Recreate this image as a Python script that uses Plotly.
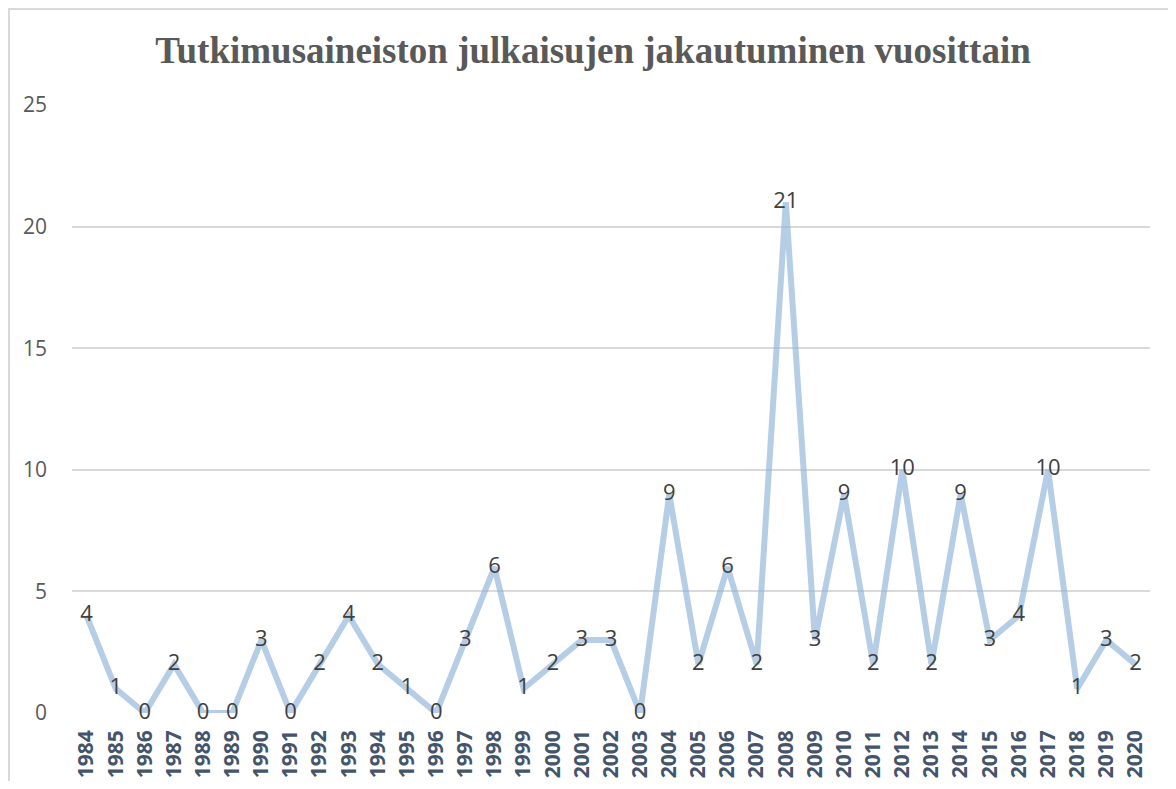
import plotly.graph_objects as go

years = [str(y) for y in range(1984, 2021)]
counts = [4, 1, 0, 2, 0, 0, 3, 0, 2, 4, 2, 1, 0, 3, 6, 1, 2, 3, 3, 0,
          9, 2, 6, 2, 21, 3, 9, 2, 10, 2, 9, 3, 4, 10, 1, 3, 2]
title_text = "Tutkimusaineiston julkaisujen jakautuminen vuosittain"
y_ticks = [0, 5, 10, 15, 20, 25]

fig = go.Figure()
fig.add_trace(go.Scatter(
    x=years, y=counts, mode="lines+text",
    line=dict(color="rgba(143,178,216,0.65)", width=6),
    text=[str(v) for v in counts], textposition="middle center",
    textfont=dict(family="Open Sans", size=22, color="#404040"),
    cliponaxis=False, hoverinfo="x+y",
))

# page has an 8px body margin; figure is sized so it fits the window
W, H = 1160, 773
L, R, T, B = 64, 18, 97, 68
pw, ph = W - L - R, H - T - B
x_left = (1 - L) / pw
y_top = (H - B - 1) / ph
fig.add_shape(type="path", xref="paper", yref="paper",
              path=f"M {x_left},-0.2 L {x_left},{y_top} L 1.1,{y_top}",
              line=dict(color="#d9d9d9", width=2), layer="below")

fig.update_layout(
    width=W, height=H,
    margin=dict(l=L, r=R, t=T, b=B, autoexpand=False),
    paper_bgcolor="white", plot_bgcolor="white",
    showlegend=False,
    title=dict(text=title_text, x=585 / W, xanchor="center",
               y=1 - 42 / H, yanchor="middle",
               font=dict(family="Liberation Serif", size=37, color="#595959", weight="bold")),
    xaxis=dict(type="category", range=[-0.5, len(years) - 0.5], tickangle=-90,
               showgrid=False, showline=False,
               zeroline=False, ticks="", ticklabelstandoff=12, automargin=False,
               tickfont=dict(family="Open Sans", size=21, color="#44546a", weight="bold")),
    yaxis=dict(range=[0, 25], tickvals=y_ticks, showgrid=True, gridcolor="#d9d9d9",
               gridwidth=2, zeroline=False, showline=False, ticks="",
               ticklabelstandoff=24, automargin=False,
               tickfont=dict(family="Open Sans", size=21, color="#595959")),
)

fig.write_html("out.html")
